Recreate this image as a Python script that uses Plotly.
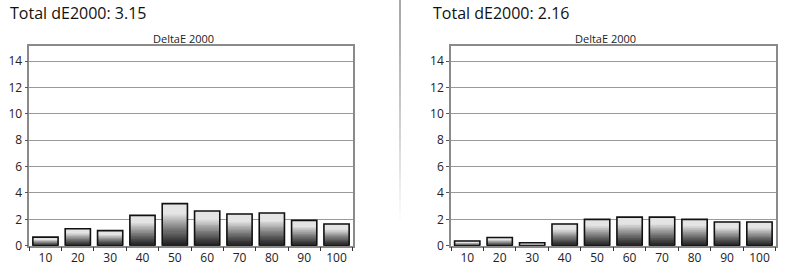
import plotly.graph_objects as go

categories = ["10", "20", "30", "40", "50", "60", "70", "80", "90", "100"]
left_values = [0.65, 1.29, 1.14, 2.30, 3.19, 2.63, 2.41, 2.48, 1.92, 1.65]
right_values = [0.36, 0.62, 0.22, 1.65, 2.00, 2.17, 2.17, 2.00, 1.80, 1.80]
left_title = "Total dE2000: 3.15"
right_title = "Total dE2000: 2.16"
chart_title = "DeltaE 2000"
y_ticks = [0, 2, 4, 6, 8, 10, 12, 14]

W, H = 792, 266
N_SEG = 40
BAR_W = 0.78
FONT = "Open Sans, DejaVu Sans, sans-serif"

fig = go.Figure()


def gray_at(f):
    t = min(1.0, f / 0.78)
    g = int(round(28 + 200 * (t ** 1.15)))
    return f"rgb({g},{g},{g})"


def add_bars(values, xa, ya):
    for k in range(N_SEG):
        f = (k + 0.5) / N_SEG
        fig.add_trace(go.Bar(
            x=categories,
            y=[v / N_SEG for v in values],
            base=[v * k / N_SEG for v in values],
            width=BAR_W,
            marker=dict(color=gray_at(f), line=dict(width=0)),
            xaxis=xa, yaxis=ya, showlegend=False, hoverinfo="skip",
        ))
    fig.add_trace(go.Bar(
        x=categories, y=values, base=[0] * len(values), width=BAR_W,
        marker=dict(color="rgba(0,0,0,0)", line=dict(color="#111111", width=1.6)),
        xaxis=xa, yaxis=ya, showlegend=False,
    ))


add_bars(left_values, "x", "y")
add_bars(right_values, "x2", "y2")

ydom = [(H - 245.7) / H, (H - 46) / H]
xdom1 = [29.3 / W, 352.7 / W]
xdom2 = [451 / W, 775.7 / W]

xcommon = dict(
    type="category", tickson="boundaries", ticks="outside", ticklen=4,
    tickcolor="#333333", tickwidth=1, showline=True, linecolor="#8a8a8a",
    linewidth=1.5, mirror=True, showgrid=False, automargin=False,
    tickfont=dict(family=FONT, size=12, color="#222222"),
    range=[-0.5, 9.5], fixedrange=True,
)
ycommon = dict(
    range=[0, 15.15], tickvals=y_ticks, ticks="outside", ticklen=3,
    tickcolor="#555555", showline=True, linecolor="#8a8a8a", linewidth=1.5,
    mirror=True, showgrid=True, gridcolor="#9a9a9a", gridwidth=1.2,
    zeroline=False, automargin=False,
    tickfont=dict(family=FONT, size=12, color="#222222"),
    fixedrange=True,
)

fig.update_layout(
    template="none",
    width=W, height=H, margin=dict(l=0, r=0, t=0, b=0),
    paper_bgcolor="white", plot_bgcolor="white", barmode="overlay",
    xaxis=dict(domain=xdom1, anchor="y", **xcommon),
    yaxis=dict(domain=ydom, anchor="x", **ycommon),
    xaxis2=dict(domain=xdom2, anchor="y2", **xcommon),
    yaxis2=dict(domain=ydom, anchor="x2", **ycommon),
)

annots = [
    dict(text=left_title, x=8 / W, y=1 - 13 / H, xanchor="left", yanchor="middle",
         font=dict(family=FONT, size=16, color="#111111")),
    dict(text=right_title, x=431 / W, y=1 - 13 / H, xanchor="left", yanchor="middle",
         font=dict(family=FONT, size=16, color="#111111")),
    dict(text=chart_title, x=183 / W, y=1 - 39 / H, xanchor="center", yanchor="middle",
         font=dict(family=FONT, size=11, color="#222222")),
    dict(text=chart_title, x=605.5 / W, y=1 - 39 / H, xanchor="center", yanchor="middle",
         font=dict(family=FONT, size=11, color="#222222")),
]
for a in annots:
    a.update(xref="paper", yref="paper", showarrow=False)
fig.update_layout(annotations=annots)

# fading vertical separator
shapes = []
nsep = 22
for i in range(nsep):
    y0 = i * 220 / nsep
    y1 = (i + 1) * 220 / nsep
    g = int(140 + 110 * (i / (nsep - 1)) ** 1.3)
    shapes.append(dict(type="line", xref="paper", yref="paper",
                       x0=400 / W, x1=400 / W, y0=1 - y0 / H, y1=1 - y1 / H,
                       line=dict(color=f"rgb({g},{g},{g})", width=1.5)))
fig.update_layout(shapes=shapes)

fig.write_html("out.html")
